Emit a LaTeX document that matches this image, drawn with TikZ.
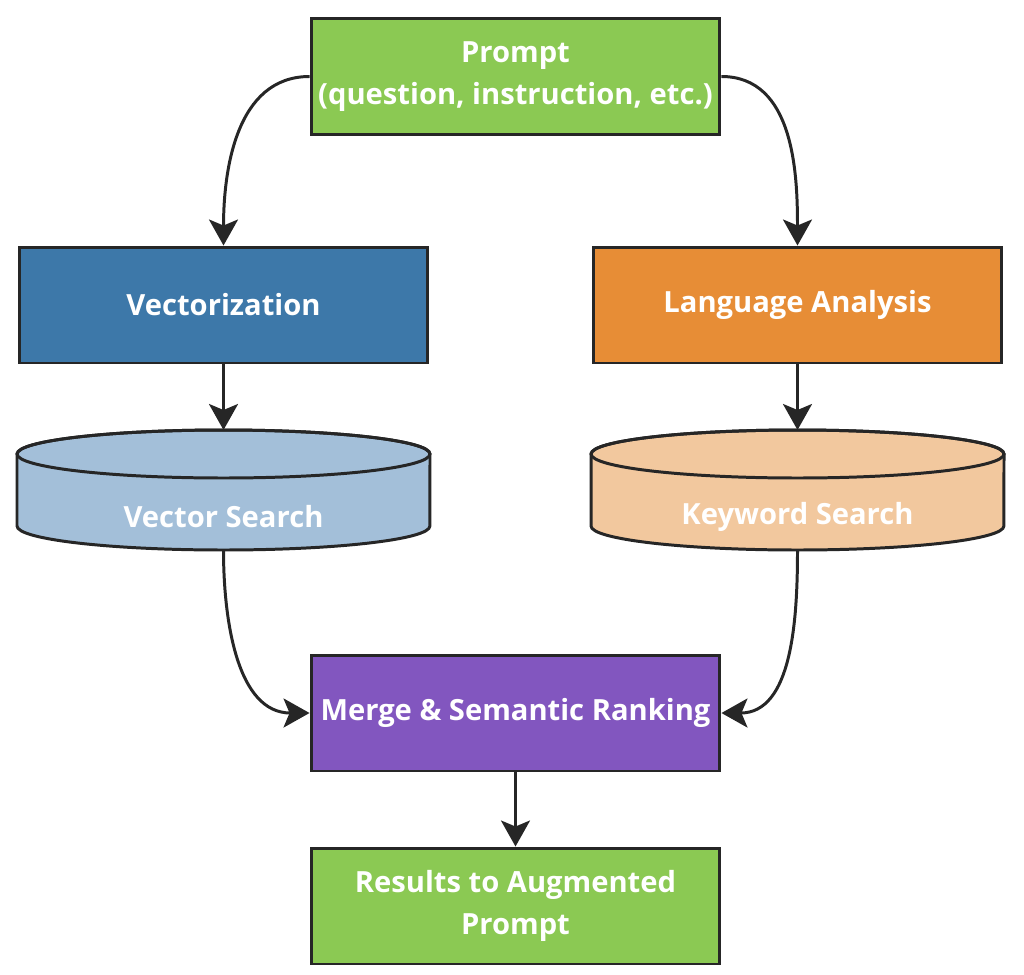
\documentclass[tikz,border=0pt]{standalone}
\usepackage{fontspec}
\setmainfont{Open Sans}
\usetikzlibrary{arrows.meta,positioning,calc}
\usepackage{xcolor}

\definecolor{promptgreen}{HTML}{8BC953}
\definecolor{vecblue}{HTML}{3D78A9}
\definecolor{langorange}{HTML}{E78D36}
\definecolor{vecsearch}{HTML}{A3BFD9}
\definecolor{keysearch}{HTML}{F2C89E}
\definecolor{mergepurple}{HTML}{8256BF}
\definecolor{edgegray}{HTML}{262626}

\begin{document}
\begin{tikzpicture}[x=0.02cm, y=-0.02cm,
    box/.style={draw=edgegray, line width=1.7pt, minimum width=8.18cm, minimum height=2.32cm,
                align=center, text=white, font=\fontsize{16.6}{23.5}\selectfont\bfseries},
    dbtext/.style={text=white, font=\fontsize{16.6}{23.5}\selectfont\bfseries},
    db/.style={draw=edgegray, line width=1.7pt},
    link/.style={draw=edgegray, line width=1.7pt, -{Stealth[length=0.52cm, width=0.58cm, inset=0.12cm]}}]
    \useasboundingbox (0,0) rectangle (1024,974);

    % Boxes
    \node[box, fill=promptgreen] (prompt) at (515.5,76.5) {Prompt\\(question, instruction, etc.)};
    \node[box, fill=vecblue] (vectorize) at (223.5,305) {Vectorization};
    \node[box, fill=langorange] (language) at (797.5,305) {Language Analysis};
    \node[box, fill=mergepurple] (merge) at (515.5,713) {Merge \& Semantic Ranking};
    \node[box, fill=promptgreen] (results) at (515.5,906) {Results to Augmented\\Prompt};

    % Search stores
    \foreach \cx/\col in {223.5/vecsearch, 797.5/keysearch} {
        \filldraw[db, fill=\col] (\cx-206.5,454) -- (\cx-206.5,526)
            arc (180:360:4.13cm and 0.48cm) -- (\cx+206.5,454)
            arc (0:180:4.13cm and 0.48cm) -- cycle;
        \draw[db] (\cx,454) ellipse [x radius=4.13cm, y radius=0.48cm];
    }
    \node[dbtext] (vsearch) at (223.5,517) {Vector Search};
    \node[dbtext] (ksearch) at (797.5,517) {Keyword Search};
    \coordinate (vtop) at (223.5,430);
    \coordinate (vbot) at (223.5,550);
    \coordinate (ktop) at (797.5,430);
    \coordinate (kbot) at (797.5,550);

    % Connectors
    \draw[link] (prompt.west) to[out=180, in=90] (vectorize.north);
    \draw[link] (prompt.east) to[out=0, in=90] (language.north);
    \draw[link] (vectorize.south) -- (vtop);
    \draw[link] (language.south) -- (ktop);
    \draw[link] (vbot) to[out=-90, in=180] (merge.west);
    \draw[link] (kbot) to[out=-90, in=0] (merge.east);
    \draw[link] (merge.south) -- (results.north);
\end{tikzpicture}
\end{document}
